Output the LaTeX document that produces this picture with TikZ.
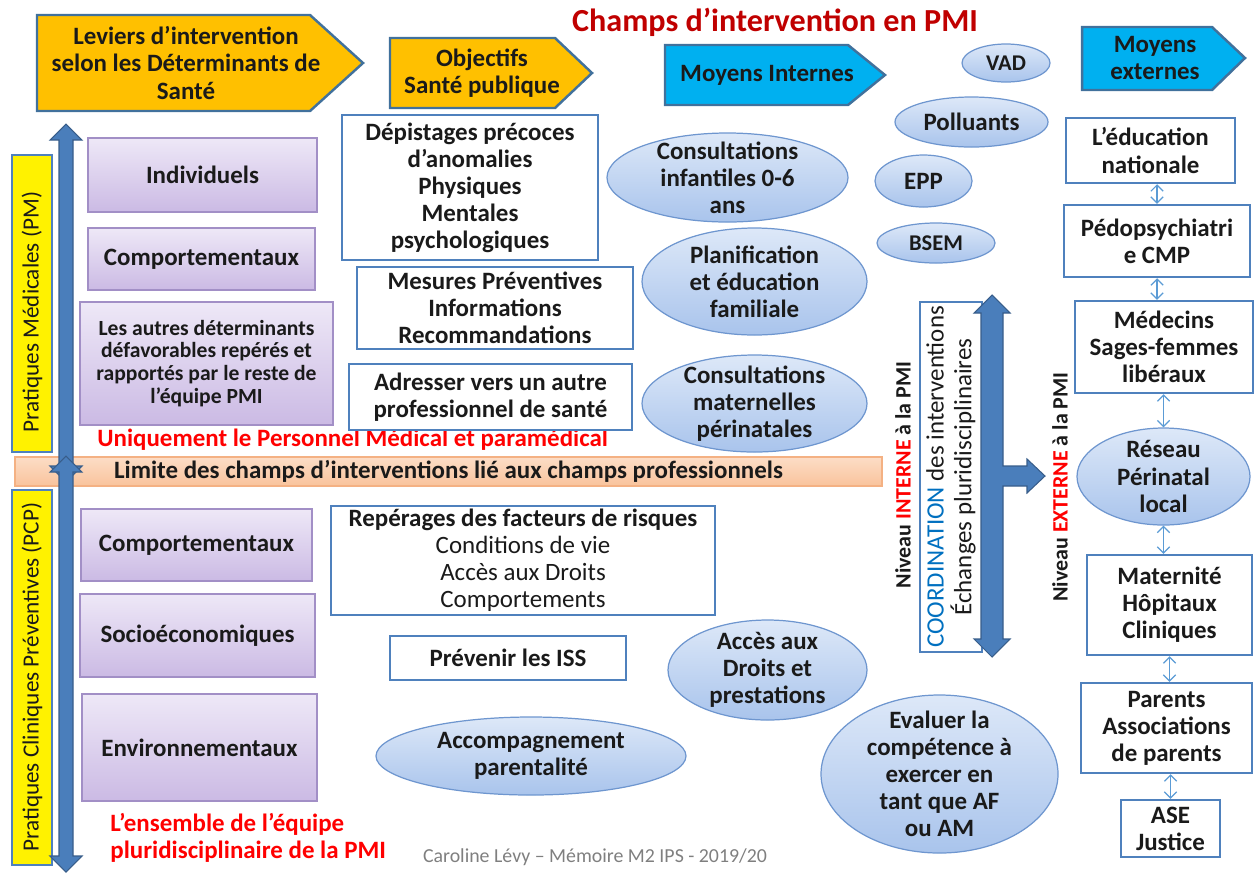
\documentclass[tikz,border=0pt]{standalone}
\usepackage{fontspec}
\setmainfont{Carlito}
\usetikzlibrary{shapes.geometric,arrows.meta,calc}
\definecolor{bannerorange}{HTML}{FFC000}
\definecolor{bannerborder}{HTML}{41719C}
\definecolor{bannercyan}{HTML}{00B0F0}
\definecolor{boxblue}{HTML}{4F81BD}
\definecolor{elltop}{HTML}{DDE8F8}
\definecolor{ellbot}{HTML}{A9C4EC}
\definecolor{ellborder}{HTML}{6E96CF}
\definecolor{purpletop}{HTML}{EEE8F7}
\definecolor{purplebot}{HTML}{CBBAE4}
\definecolor{purpleborder}{HTML}{A28FC6}
\definecolor{limittop}{HTML}{FCDDC6}
\definecolor{limitbot}{HTML}{F9C39C}
\definecolor{limitborder}{HTML}{F4B183}
\definecolor{titlered}{HTML}{C00000}
\definecolor{brightred}{HTML}{FF0000}
\definecolor{coordblue}{HTML}{0070C0}
\definecolor{arrowfill}{HTML}{4A7EBB}
\definecolor{arrowborder}{HTML}{385D8A}
\definecolor{connblue}{HTML}{5B9BD5}
\definecolor{creditgray}{HTML}{7F7F7F}
\definecolor{textdark}{HTML}{1A1A1A}
\newcommand{\fatvarrow}[6]{%
  \draw[fatarrow] (#1-#4,#2+#6) -- (#1-#5,#2+#6) -- (#1,#2) -- (#1+#5,#2+#6) -- (#1+#4,#2+#6)
    -- (#1+#4,#3-#6) -- (#1+#5,#3-#6) -- (#1,#3) -- (#1-#5,#3-#6) -- (#1-#4,#3-#6) -- cycle;}
\begin{document}
\begin{tikzpicture}[x=0.02cm,y=-0.02cm,
  every node/.style={inner sep=0pt, text=textdark},
  txt/.style={align=center, font=\bfseries\fontsize{14.2}{15.4}\selectfont},
  smalltxt/.style={align=center, font=\bfseries\fontsize{12.3}{13}\selectfont},
  smallell/.style={txt, font=\bfseries\fontsize{12.8}{14}\selectfont},
  place/.style n args={4}{at={({(#1+#3)/2},{(#2+#4)/2})},
     minimum width={(#3-#1)*0.02cm}, minimum height={(#4-#2)*0.02cm}},
  wbox/.style={rectangle, draw=boxblue, line width=1.4pt, fill=white, txt},
  pbox/.style={rectangle, draw=purpleborder, line width=0.8pt, top color=purpletop, bottom color=purplebot, txt},
  ell/.style={ellipse, draw=ellborder, line width=0.7pt, top color=elltop, bottom color=ellbot},
  ybox/.style={rectangle, draw=boxblue, line width=1.4pt, fill=yellow},
  banner/.style={draw=bannerborder, line width=1.4pt},
  fatarrow/.style={fill=arrowfill, draw=arrowborder, line width=0.6pt},
  conn/.style={draw=connblue, line width=0.7pt, {Straight Barb[length=3.5pt,width=7pt]}-{Straight Barb[length=3.5pt,width=7pt]}},
  redtxt/.style={text=brightred, font=\bfseries\fontsize{14.2}{15.4}\selectfont},
  vtxt/.style={rotate=90, font=\fontsize{13.2}{15.3}\selectfont}
]
\useasboundingbox (0,0) rectangle (1256,873);

% title
\node[text=titlered, font=\bfseries\fontsize{18.3}{21}\selectfont] (title) at (775,22) {Champs d’intervention en PMI};

% banners
\draw[banner, fill=bannerorange] (37,15) -- (310,15) -- (363,63) -- (310,111) -- (37,111) -- cycle;
\node[txt] (leviers) at (186,63) {Leviers d’intervention\\selon les Déterminants de\\Santé};
\draw[banner, fill=bannerorange] (390,38) -- (555,38) -- (592,73) -- (555,108) -- (390,108) -- cycle;
\node[txt] (objectifs) at (482,73) {Objectifs\\Santé publique};
\draw[banner, fill=bannercyan] (665,45) -- (848,45) -- (885,75) -- (848,105) -- (665,105) -- cycle;
\node[txt] (moyint) at (767,75) {Moyens Internes};
\draw[banner, fill=bannercyan] (1082,27) -- (1212,27) -- (1245,58) -- (1212,90) -- (1082,90) -- cycle;
\node[txt] (moyext) at (1155,58) {Moyens\\externes};

% limit bar
\node[place={15}{457}{882}{486}, draw=limitborder, line width=0.8pt, top color=limittop, bottom color=limitbot, txt] (limit) {Limite des champs d’interventions lié aux champs professionnels};

% yellow vertical boxes
\node[ybox, place={12}{155}{52}{452}] (pmbox) {};
\node[vtxt] (pmtxt) at (32,312) {Pratiques Médicales (PM)};
\node[ybox, place={12}{490}{52}{865}] (pcpbox) {};
\node[vtxt] (pcptxt) at (32,677) {Pratiques Cliniques Préventives (PCP)};

% left fat arrows
\fatvarrow{66}{124}{482}{7}{16}{16}
\fatvarrow{66}{456}{872}{7}{16}{16}

% purple boxes
\node[pbox, place={88}{138}{317}{212}] (indiv) {Individuels};
\node[pbox, place={88}{228}{315}{290}] (comp1) {Comportementaux};
\node[pbox, place={80}{302}{333}{425}, smalltxt] (autres) {Les autres déterminants\\défavorables repérés et\\rapportés par le reste de\\l’équipe PMI};
\node[pbox, place={81}{509}{312}{581}] (comp2) {Comportementaux};
\node[pbox, place={80}{594}{315}{677}] (socio) {Socioéconomiques};
\node[pbox, place={82}{694}{317}{801}] (envir) {Environnementaux};

% red texts
\node[redtxt, anchor=west] (uniq) at (97,440) {Uniquement le Personnel Médical et paramédical};
\node[redtxt, anchor=west, align=left] (ensemble) at (110,838) {L’ensemble de l’équipe\\pluridisciplinaire de la PMI};

% middle boxes
\node[wbox, place={342}{115}{598}{260}] (depist) {Dépistages précoces\\d’anomalies\\Physiques\\Mentales\\psychologiques};
\node[wbox, place={357}{267}{633}{349}] (mesures) {Mesures Préventives\\Informations\\Recommandations};
\node[wbox, place={349}{364}{632}{430}] (adresser) {Adresser vers un autre\\professionnel de santé};
\node[wbox, place={331}{506}{715}{615}, font=\fontsize{14.2}{15.4}\selectfont] (reperages) {{\bfseries Repérages des facteurs de risques}\\Conditions de vie\\Accès aux Droits\\Comportements};
\node[wbox, place={390}{636}{626}{680}] (iss) {Prévenir les ISS};

% ellipses internal
\node[ell, place={607}{133}{848}{222}, label={[txt]center:{Consultations\\infantiles 0-6\\ans}}] (consinf) {};
\node[ell, place={642}{228}{867}{335}, label={[txt]center:{Planification\\et éducation\\familiale}}] (planif) {};
\node[ell, place={642}{355}{867}{452}, label={[txt]center:{Consultations\\maternelles\\périnatales}}] (consmat) {};
\node[ell, place={668}{620}{867}{720}, label={[txt]center:{Accès aux\\Droits et\\prestations}}] (acces) {};
\node[ell, place={376}{717}{686}{795}, label={[txt]center:{Accompagnement\\parentalité}}] (accomp) {};
\node[ell, place={821}{695}{1058}{853}, label={[txt]center:{Evaluer la\\compétence à\\exercer en\\tant que AF\\ou AM}}] (evaluer) {};
\node[ell, place={962}{44}{1050}{82}, label={[smallell]center:{VAD}}] (vad) {};
\node[ell, place={895}{97}{1048}{147}, label={[txt]center:{Polluants}}] (polluants) {};
\node[ell, place={875}{155}{972}{207}, label={[txt]center:{EPP}}] (epp) {};
\node[ell, place={877}{223}{995}{263}, label={[smallell]center:{BSEM}}] (bsem) {};

% coordination
\node[vtxt, font=\bfseries\fontsize{12.5}{15.3}\selectfont] (interne) at (903,475) {Niveau \textcolor{brightred}{INTERNE} à la PMI};
\node[rectangle, rotate=90, draw=boxblue, line width=1.4pt, fill=white, minimum width={350*0.02cm}, minimum height={62*0.02cm}, align=center, font=\fontsize{14.2}{15.8}\selectfont] (coord) at (951,477) {\textcolor{coordblue}{COORDINATION} des interventions\\Échanges pluridisciplinaires};
\draw[fatarrow] (992,295) -- (1010,313) -- (1003,313) -- (1003,466) -- (1027,466) -- (1027,459)
  -- (1045,476) -- (1027,493) -- (1027,486) -- (1003,486) -- (1003,639) -- (1010,639)
  -- (992,657) -- (974,639) -- (981,639) -- (981,313) -- (974,313) -- cycle;
\node[vtxt, font=\bfseries\fontsize{12.5}{15.3}\selectfont] (externe) at (1060,487) {Niveau \textcolor{brightred}{EXTERNE} à la PMI};

% right column
\node[wbox, place={1066}{118}{1235}{183}] (educ) {L’éducation\\nationale};
\node[wbox, place={1064}{205}{1250}{277}] (pedo) {Pédopsychiatri\\e CMP};
\node[wbox, place={1075}{301}{1253}{393}] (medecins) {Médecins\\Sages-femmes\\libéraux};
\node[ell, place={1077}{428}{1250}{525}, label={[txt]center:{Réseau\\Périnatal\\local}}] (reseau) {};
\node[wbox, place={1087}{555}{1252}{655}] (mater) {Maternité\\Hôpitaux\\Cliniques};
\node[wbox, place={1081}{683}{1252}{773}] (parents) {Parents\\Associations\\de parents};
\node[wbox, place={1121}{800}{1220}{857}] (ase) {ASE\\Justice};

\draw[conn] (pedo.north |- educ.south) -- (pedo.north);
\draw[conn] (pedo.south) -- (pedo.south |- medecins.north);
\draw[conn] (reseau.north |- medecins.south) -- (reseau.north);
\draw[conn] (reseau.south) -- (reseau.south |- mater.north);
\draw[conn] (mater.south) -- (mater.south |- parents.north);
\draw[conn] (ase.north |- parents.south) -- (ase.north);

% credit
\node[text=creditgray, font=\fontsize{11.3}{13}\selectfont] (credit) at (595,857) {Caroline Lévy – Mémoire M2 IPS - 2019/20};
\end{tikzpicture}
\end{document}
